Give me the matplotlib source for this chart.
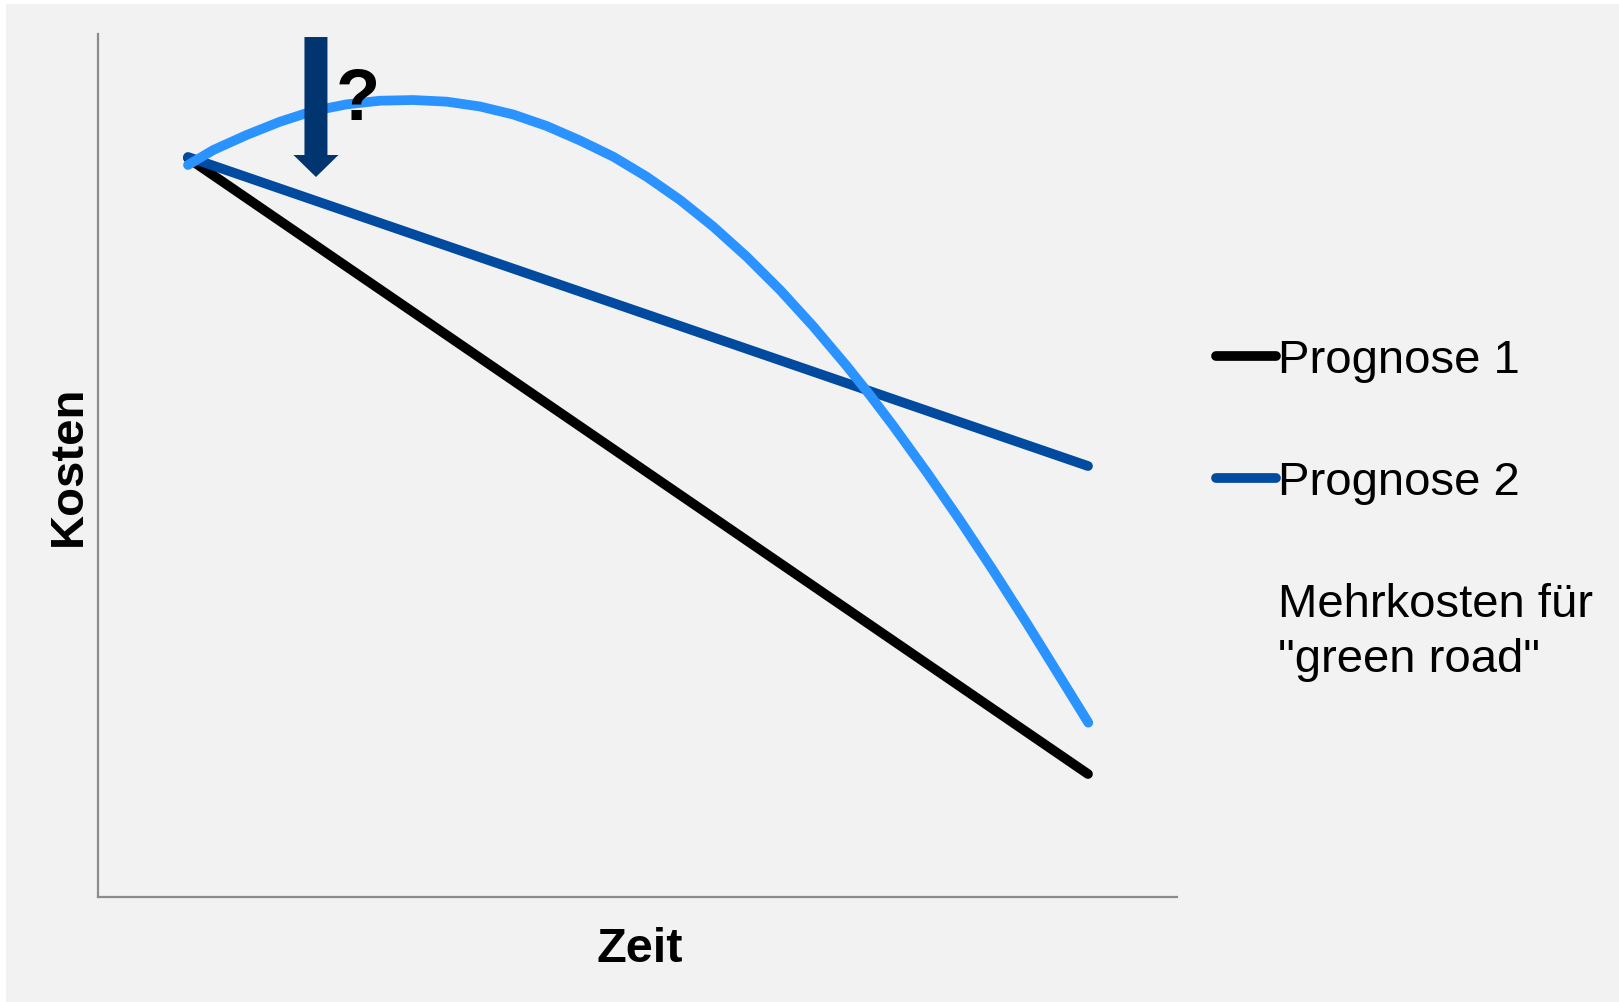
import numpy as np
import matplotlib
matplotlib.use('Agg')
import matplotlib.pyplot as plt
from matplotlib.lines import Line2D
from matplotlib.patches import Rectangle

plt.rcParams['font.family'] = ['Liberation Sans', 'DejaVu Sans']

# data (arbitrary units 0..10)
zeit = [0.834, 9.175]
prognose1 = [8.563, 1.425]
prognose2 = [8.575, 4.994]

zeit_green = [0.834, 1.069, 1.378, 1.687, 1.995, 2.305, 2.614, 2.922, 3.232,
              3.540, 3.849, 4.158, 4.467, 4.776, 5.085, 5.394, 5.703, 6.012,
              6.321, 6.629, 6.939, 7.155, 7.371, 7.680, 7.989, 8.298, 8.607,
              8.916, 9.178]
mehrkosten = [8.482, 8.656, 8.830, 8.984, 9.108, 9.185, 9.227, 9.235, 9.216,
              9.160, 9.067, 8.934, 8.766, 8.578, 8.346, 8.077, 7.767, 7.419,
              7.034, 6.612, 6.153, 5.814, 5.458, 4.923, 4.364, 3.780, 3.174,
              2.550, 2.020]

labels = ['Prognose 1', 'Prognose 2', 'Mehrkosten für\n"green road"']

# arrow with question mark
pfeil_x = 2.020
pfeil_y0 = 9.965
pfeil_y1 = 8.343

W, H = 1619, 1002
fig = plt.figure(figsize=(W / 100, H / 100), dpi=100, facecolor='white')
fig.add_artist(Rectangle((6 / W, 0), 1, (H - 4) / H, transform=fig.transFigure,
                         facecolor='#f2f2f2', edgecolor='none', zorder=-10))

ax = fig.add_axes([98 / W, 1 - 897 / H, (1177 - 98) / W, (897 - 34) / H])
ax.set_facecolor('none')
ax.set_xlim(0, 10)
ax.set_ylim(0, 10)

lw = 7.0
l1, = ax.plot(zeit, prognose1, color='black', lw=lw, solid_capstyle='round', zorder=2)
l2, = ax.plot(zeit, prognose2, color='#004a9f', lw=lw, solid_capstyle='round', zorder=3)
ax.plot(zeit_green, mehrkosten, color='#2b93ff', lw=lw, solid_capstyle='round',
        solid_joinstyle='round', zorder=4)

ax.arrow(pfeil_x, pfeil_y0, 0, pfeil_y1 - pfeil_y0, width=0.213, head_width=0.417,
         head_length=0.255, length_includes_head=True, facecolor='#003570',
         edgecolor='none', zorder=5)
ax.text(2.41, 9.004, '?', fontsize=52, fontweight='bold', ha='center',
        va='baseline', zorder=6)

for s in ['top', 'right']:
    ax.spines[s].set_visible(False)
for s in ['left', 'bottom']:
    ax.spines[s].set_color('#8c8c8c')
    ax.spines[s].set_linewidth(1.6)
ax.set_xticks([])
ax.set_yticks([])

fig.text(640 / W, 1 - 962 / H, 'Zeit', fontsize=35, fontweight='bold',
         ha='center', va='baseline')
fig.text(68.5 / W, 1 - 466 / H, 'Kosten', fontsize=34, fontweight='bold',
         rotation=90, ha='center', va='center')

leer = Line2D([], [], color='none')
leg = fig.legend([l1, l2, leer], labels, loc='upper left',
                 bbox_to_anchor=(1216 / W, 1 - 339 / H), frameon=False, fontsize=34,
                 handlelength=1.27, handletextpad=0.05, labelspacing=1.65,
                 borderpad=0, borderaxespad=0)
for t in leg.get_texts():
    t.set_linespacing(1.33)

fig.savefig('out.png', dpi=100, facecolor=fig.get_facecolor())
